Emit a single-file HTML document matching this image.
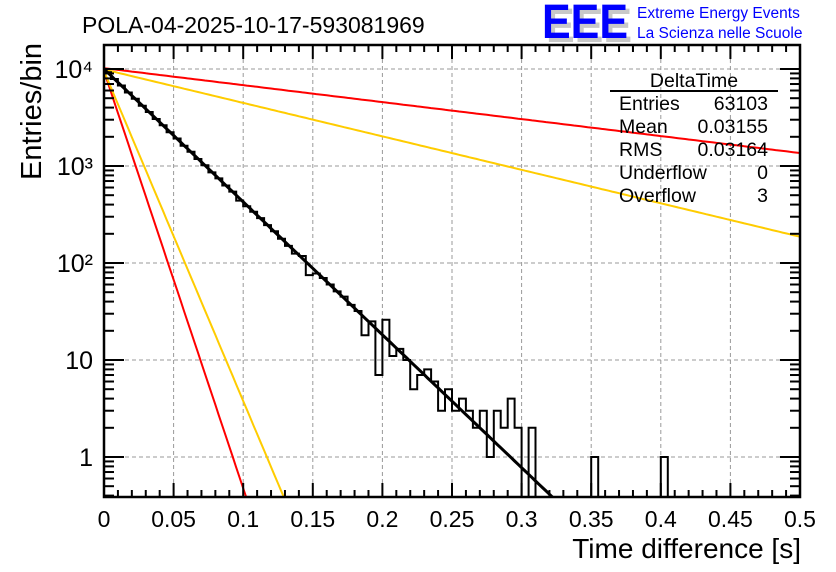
<!DOCTYPE html>
<html><head><meta charset="utf-8"><style>
html,body{margin:0;padding:0;background:#fff;width:836px;height:572px;overflow:hidden;}
svg{display:block;font-family:"Liberation Sans",sans-serif;}
</style></head><body>
<svg id="chart" width="836" height="572" viewBox="0 0 836 572">
<defs><clipPath id="pc"><rect x="104" y="45" width="696" height="452"/></clipPath></defs>
<rect width="836" height="572" fill="#fff"/>
<text x="82" y="33" font-size="23">POLA-04-2025-10-17-593081969</text>
<g>
<text x="546" y="42" font-size="48" fill="#c8c8c8" font-weight="bold" textLength="86" lengthAdjust="spacingAndGlyphs">EEE</text>
<text x="542" y="38" font-size="48" fill="#0000ff" font-weight="bold" textLength="86" lengthAdjust="spacingAndGlyphs">EEE</text>
<text x="637" y="18" font-size="15.5" fill="#0000ff">Extreme Energy Events</text>
<text x="637" y="38" font-size="15.5" fill="#0000ff">La Scienza nelle Scuole</text>
</g>
<g id="grid"></g>
<g id="marks" clip-path="url(#pc)"></g>
<g id="axes"></g>
<g font-size="19.5">
<text x="694" y="87" text-anchor="middle">DeltaTime</text>
<line x1="610" y1="91" x2="778" y2="91" stroke="#000" stroke-width="2"/>
<text x="619" y="110">Entries</text><text x="768" y="110" text-anchor="end">63103</text>
<text x="619" y="133">Mean</text><text x="768" y="133" text-anchor="end">0.03155</text>
<text x="619" y="156">RMS</text><text x="768" y="156" text-anchor="end">0.03164</text>
<text x="619" y="179">Underflow</text><text x="768" y="179" text-anchor="end">0</text>
<text x="619" y="202">Overflow</text><text x="768" y="202" text-anchor="end">3</text>
</g>
<text x="801" y="558" font-size="28" text-anchor="end">Time difference [s]</text>
<text transform="translate(41,180) rotate(-90)" font-size="29">Entries/bin</text>
</svg>
<script>
const binCounts = [9240,7890,6760,5720,4930,4180,3600,3050,2630,2230,1920,1620,1400,1180,1020,860,745,630,545,440,385,337,290,246,212,178,150,125,118,75,78,70,60,51,45,37,32,18,25,7,26,11,13,10,5,7,8,6,3,5,3,4,3,2,3,1,3,2,4,2,0,2,0,0,0,0,0,0,0,0,1,0,0,0,0,0,0,0,0,0,1,0,0,0,0,0,0,0,0,0,0,0,0,0,0,0,0,0,0,0];
const binWidth = [0.005];
const xTicks = [0,0.05,0.1,0.15,0.2,0.25,0.3,0.35,0.4,0.45,0.5];
const xTickLabels = ["0","0.05","0.1","0.15","0.2","0.25","0.3","0.35","0.4","0.45","0.5"];
const yDecades = [1,10,100,1000,10000];
const yTickLabels = ["1","10","10²","10³","10⁴"];
// fit curves: [N0, decades per second]
const mainFit = [10000, 13.7];
const redSteep = [9500, 43.0];
const orangeSteep = [9500, 34.0];
const redShallow = [10200, 1.75];
const orangeShallow = [9900, 3.45];

const X0=104,X1=800,YT=45,YB=497,Y1=457,DEC=97;
const xs=t=>X0+(t/0.5)*(X1-X0);
const ys=v=>Y1-Math.log10(v)*DEC;
const NS='http://www.w3.org/2000/svg';
function mk(tag,attrs,parent){const e=document.createElementNS(NS,tag);for(const k in attrs)e.setAttribute(k,attrs[k]);parent.appendChild(e);return e;}
const grid=document.getElementById('grid'),marks=document.getElementById('marks'),axes=document.getElementById('axes');
xTicks.forEach((t,i)=>{if(i>0&&i<xTicks.length-1){const l=mk('line',{x1:xs(t),x2:xs(t),y1:YT,y2:YB,stroke:'#999','stroke-dasharray':'4,3','stroke-width':1},grid);

}});
yDecades.forEach(v=>{const l=mk('line',{x1:X0,x2:X1,y1:ys(v),y2:ys(v),stroke:'#999','stroke-dasharray':'4,3','stroke-width':1},grid);

});
function fitLine(p,color,name,w){let d='';for(let i=0;i<=200;i++){const t=0.5*i/200;const v=p[0]*Math.pow(10,-p[1]*t);d+=(i?'L':'M')+xs(t).toFixed(1)+','+Math.min(ys(Math.max(v,1e-3)),YB+3).toFixed(1);}
const e=mk('path',{d:d,fill:'none',stroke:color,'stroke-width':w},marks);

}
fitLine(redShallow,'#ff0000','red-shallow-curve',2);
fitLine(orangeShallow,'#ffcc00','orange-shallow-curve',2);
fitLine(redSteep,'#ff0000','red-steep-curve',2);
fitLine(orangeSteep,'#ffcc00','orange-steep-curve',2);
let d='M'+xs(0)+','+(YB+3);
binCounts.forEach((c,i)=>{const y=c>0?ys(c):YB+3;const xa=xs(i*binWidth[0]),xb=xs((i+1)*binWidth[0]);d+='L'+xa.toFixed(1)+','+y.toFixed(1)+'L'+xb.toFixed(1)+','+y.toFixed(1);});
d+='L'+xs(0.5)+','+(YB+3);
const h=mk('path',{d:d,fill:'none',stroke:'#000','stroke-width':2},marks);


fitLine(mainFit,'#000','exponential-fit',3);
const fr=mk('rect',{x:X0,y:YT,width:X1-X0,height:YB-YT,fill:'none',stroke:'#000','stroke-width':2.5},axes);


for(let i=0;i<=50;i++){const t=i*0.01;const x=xs(t);const L=(i%5===0)?14:7;
mk('line',{x1:x,x2:x,y1:YB,y2:YB-L,stroke:'#000','stroke-width':2},axes);
mk('line',{x1:x,x2:x,y1:YT,y2:YT+L,stroke:'#000','stroke-width':2},axes);}
xTicks.forEach((t,i)=>{const e=mk('text',{x:xs(t),y:527,'font-size':23,'text-anchor':'middle'},axes);e.textContent=xTickLabels[i];

});
for(let dcd=-1;dcd<=4;dcd++){for(let m=1;m<=9;m++){const v=m*Math.pow(10,dcd);const y=ys(v);if(y<YT||y>YB)continue;const L=m===1?20:10;
mk('line',{x1:X0,x2:X0+L,y1:y,y2:y,stroke:'#000','stroke-width':2},axes);
mk('line',{x1:X1,x2:X1-L,y1:y,y2:y,stroke:'#000','stroke-width':2},axes);}}
yDecades.forEach((v,i)=>{const e=mk('text',{x:93,y:ys(v)+9,'font-size':25,'text-anchor':'end'},axes);e.textContent=yTickLabels[i];

});
</script>
</body></html>
